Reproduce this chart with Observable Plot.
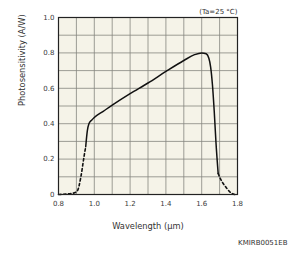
<!DOCTYPE html>
<html>
<head>
<meta charset="utf-8">
<script src="https://cdn.jsdelivr.net/npm/d3@7"></script>
<script src="https://cdn.jsdelivr.net/npm/@observablehq/plot@0.6"></script>
<style>
  html, body { margin: 0; padding: 0; background: #ffffff; }
  #chart svg { display: block; }
</style>
</head>
<body>
<div id="chart"></div>
<script>
// Left tail (dashed)
const leftWl   = [0.80, 0.84, 0.88, 0.905, 0.925, 0.942, 0.952];
const leftResp = [0.00, 0.002, 0.007, 0.02, 0.10, 0.21, 0.27];
// Main curve (solid)
const mainWl   = [0.952, 0.961, 0.970, 0.985, 1.00, 1.05, 1.10, 1.20, 1.30, 1.40, 1.50, 1.56, 1.60, 1.625, 1.640, 1.650, 1.660, 1.670, 1.680, 1.692];
const mainResp = [0.27, 0.36, 0.40, 0.42, 0.435, 0.47, 0.505, 0.57, 0.63, 0.695, 0.757, 0.79, 0.80, 0.795, 0.77, 0.72, 0.62, 0.47, 0.29, 0.119];
// Right tail (dashed)
const rightWl   = [1.692, 1.705, 1.72, 1.74, 1.757, 1.772, 1.785];
const rightResp = [0.119, 0.088, 0.062, 0.035, 0.015, 0.004, 0.0];

const xTicks = [0.8, 1.0, 1.2, 1.4, 1.6, 1.8];
const yTicks = [0, 0.2, 0.4, 0.6, 0.8, 1.0];
const xGrid = d3.range(0, 11).map(i => 0.8 + i * 0.1);
const yGrid = d3.range(0, 11).map(i => i * 0.1);

const toRows = (xs, ys) => xs.map((x, i) => ({wl: x, r: ys[i]}));
const left = toRows(leftWl, leftResp);
const main = toRows(mainWl, mainResp);
const right = toRows(rightWl, rightResp);

const chart = Plot.plot({
  width: 300,
  height: 258,
  marginLeft: 58,
  marginRight: 63,
  marginTop: 17,
  marginBottom: 64,
  style: {fontFamily: "'DejaVu Sans', Verdana, sans-serif", fontSize: "7px", color: "#3a3a3a", background: "#ffffff"},
  x: {domain: [0.8, 1.8]},
  y: {domain: [0, 1.0]},
  marks: [
    Plot.frame({fill: "#f5f3e8", stroke: null}),
    Plot.ruleX(xGrid, {stroke: "#85857f", strokeWidth: 0.8}),
    Plot.ruleY(yGrid, {stroke: "#85857f", strokeWidth: 0.8}),
    Plot.axisX({ticks: xTicks, tickSize: 0, tickPadding: 7, tickFormat: d => d.toFixed(1), fontSize: 7, label: null}),
    Plot.axisY({ticks: yTicks, tickSize: 0, tickPadding: 4, tickFormat: d => d === 0 ? "0" : d.toFixed(1), fontSize: 7, label: null}),
    Plot.text(["Wavelength (µm)"], {frameAnchor: "bottom", dy: 34, fontSize: 8.3, fill: "#333"}),
    Plot.text(["Photosensitivity (A/W)"], {frameAnchor: "left", dx: -36, rotate: -90, fontSize: 8.3, fill: "#333"}),
    Plot.line(left, {x: "wl", y: "r", stroke: "#111", strokeWidth: 1.6, strokeDasharray: "2.5,2.5", curve: "monotone-x"}),
    Plot.line(main, {x: "wl", y: "r", stroke: "#111", strokeWidth: 1.5, curve: "monotone-x"}),
    Plot.line(right, {x: "wl", y: "r", stroke: "#111", strokeWidth: 1.6, strokeDasharray: "2.5,2.5", curve: "monotone-x"}),
    Plot.frame({stroke: "#222", strokeWidth: 1.2}),
    Plot.text(["(Ta=25 °C)"], {frameAnchor: "top-right", dy: -8, fontSize: 7, fill: "#333"}),
    Plot.text(["KMIRB0051EB"], {frameAnchor: "bottom-right", dx: 50, dy: 50, fontSize: 7, fill: "#333"})
  ]
});
document.getElementById("chart").appendChild(chart);
</script>
</body>
</html>
